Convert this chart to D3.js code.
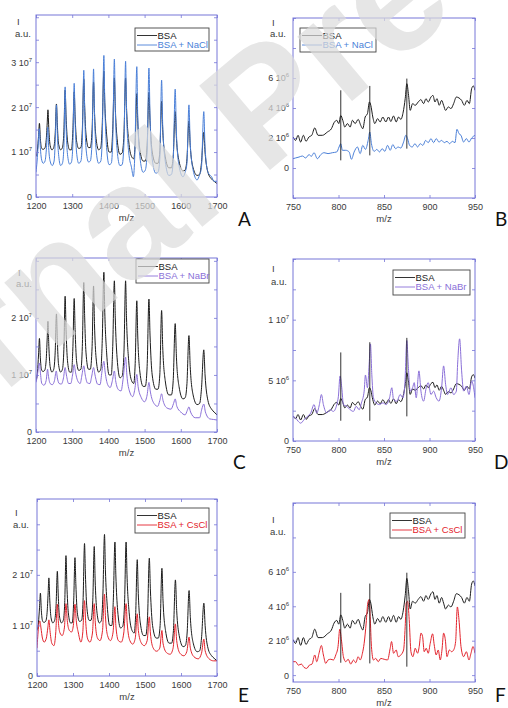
<!DOCTYPE html>
<html><head><meta charset="utf-8">
<script src="https://cdn.jsdelivr.net/npm/d3@7"></script>
<style>body{margin:0;background:#fff} svg{display:block}</style>
</head><body><svg id="c" width="508" height="708"></svg>
<script>
// ---------- DATA (intensity in units of 1e6 a.u.) ----------
const UNIT = 1e6;
const highTicksX = [1200,1300,1400,1500,1600,1700];
const lowTicksX = [750,800,850,900,950];

// BSA control, m/z 1200-1700 (panels A, C, E)
const bsaHigh = [[1200,9.0],[1204,10.5],[1207,13.5],[1209.5,16.4],[1212,13],[1215,11],[1219,10.6],[1224,10.8],[1228,12.5],[1231,16.5],[1233,19.4],[1235.5,15],[1239,11.5],[1244,10.5],[1249,11],[1253,14],[1256.5,20.7],[1259,16],[1262,12],[1268,10.5],[1273,11],[1277,14.5],[1280.5,23.8],[1283,18],[1287,12.5],[1293,10.5],[1298,10.5],[1302,15],[1305.5,23.4],[1308,18],[1312,12.5],[1318,10.8],[1324,11],[1328,15],[1332,26.2],[1334.5,20],[1338,14],[1345,11],[1350,11],[1355,15],[1359,25.6],[1361.5,19],[1366,13],[1373,10.5],[1379,11],[1383,16],[1387.5,28.0],[1390,21],[1395,14],[1402,10],[1408,10],[1412,15],[1416.5,26.5],[1419,20],[1424,13],[1432,9.5],[1438,9.8],[1443,14],[1447.5,26.5],[1450,20],[1456,12.5],[1464,9],[1470,8.5],[1474,12],[1478.5,23],[1481,17],[1487,10.5],[1496,8],[1502,8],[1507,11.5],[1512,23.3],[1515,17],[1521,10],[1531,7.5],[1537,7.5],[1542,10],[1547,21.3],[1550,15],[1557,9],[1567,6.5],[1574,6.5],[1579,9],[1584.5,19],[1588,13],[1595,8],[1606,5.8],[1612,6],[1617,8.5],[1622.5,16.9],[1626,11.5],[1634,6.5],[1645,4.8],[1652,5],[1657,7.5],[1663.5,14.4],[1667,10],[1675,5.5],[1685,4],[1692,3.5],[1700,3.0]];

// BSA + NaCl (A)
const naclHigh = [[1200,5.5],[1203,8],[1206,11.5],[1209,15.2],[1212,11],[1215,8.5],[1220,7.5],[1225,8],[1229,11],[1232.5,15.5],[1235,11],[1239,8],[1245,7],[1250,8],[1253.5,13],[1256.5,20.5],[1259,14],[1263,9],[1268,7],[1273,7.5],[1277,11],[1280.5,24.5],[1283,16],[1287,9.5],[1293,7.3],[1298,7.8],[1302,12],[1305.5,25.3],[1308,17],[1312,10],[1318,7.5],[1324,8],[1328,12.5],[1332,28.2],[1334.5,19],[1338,11],[1345,7.8],[1350,8],[1355,12.5],[1359,28.5],[1361.5,19],[1366,10.5],[1373,7.5],[1379,8],[1383,13],[1387.5,31.5],[1390,21],[1395,11],[1402,7.2],[1408,7.5],[1412,12.5],[1416.5,30.7],[1419,20],[1424,10.5],[1432,7],[1438,7.2],[1443,12],[1447.5,30.2],[1450,19.5],[1456,10],[1464,6.5],[1469,4.5],[1473,9.5],[1478.5,29.0],[1481,18],[1487,9],[1496,5.5],[1502,6],[1507,10],[1512,28.7],[1515,18],[1521,8.5],[1531,5.3],[1537,5.5],[1542,8.5],[1547,26.0],[1550,16],[1557,8],[1567,4.8],[1574,5],[1579,8],[1584.5,24.0],[1588,14],[1595,7],[1606,4.5],[1612,5.5],[1617,7.5],[1622.5,20.5],[1626,12],[1634,6],[1645,3.8],[1652,5],[1657,6.5],[1663.5,19.0],[1667,11],[1675,5.5],[1685,4.5],[1692,3.5],[1700,3.5]];

// BSA + NaBr (C)
const nabrHigh = [[1200,8.7],[1204,10],[1207,11.5],[1209.5,12.1],[1212,10.5],[1216,8.5],[1222,8.2],[1228,9],[1232,11],[1234,10],[1239,8.5],[1245,8.3],[1251,9],[1256,10.7],[1259,9.5],[1264,8.5],[1270,8.4],[1276,9.5],[1280.5,11.3],[1284,10],[1290,8.5],[1296,8.5],[1301,10],[1305.5,11.8],[1309,10.5],[1315,9],[1322,8.5],[1327,10],[1332,11.6],[1336,10],[1342,8.6],[1349,8.5],[1354,9.8],[1359,11.3],[1363,10],[1370,8.4],[1377,8.3],[1382,10.5],[1387.5,12.4],[1391,10.5],[1398,8.3],[1405,7.8],[1411,9],[1416.5,10.7],[1420,9],[1428,7.4],[1435,7.2],[1441,9.5],[1447.5,13.1],[1451,10],[1459,7],[1467,6.2],[1473,7.5],[1478.5,10.1],[1482,8],[1491,6],[1500,5.3],[1507,6.5],[1512,8.7],[1516,7],[1526,5],[1536,4.5],[1542,5.5],[1547,6.7],[1551,5.5],[1562,4.2],[1573,4],[1580,5],[1584.5,5.8],[1589,4.5],[1600,3.5],[1612,3],[1618,3.8],[1622.5,4.4],[1627,3.5],[1640,2.5],[1652,2.5],[1658,4],[1663.5,4.9],[1668,3.5],[1680,2.3],[1690,2.2],[1700,2.1]];

// BSA + CsCl (E)
const csclHigh = [[1200,5.5],[1204,9.5],[1208,10.9],[1211,9.5],[1215,7.5],[1220,6.7],[1226,7.5],[1230,9.5],[1233,11.1],[1236,9],[1241,6.5],[1247,6],[1252,8.5],[1256.5,14.2],[1259,11],[1264,8.5],[1270,8],[1276,9.5],[1280.5,14.3],[1284,11],[1290,9],[1296,8.7],[1301,10],[1305.5,14.2],[1309,11],[1315,8.5],[1322,6.7],[1327,8.5],[1332,14.9],[1335,11],[1340,7.5],[1347,6.7],[1354,8.5],[1359,14.3],[1362,10.5],[1368,7.5],[1375,7],[1382,9],[1387.5,16.2],[1390,12],[1396,8],[1404,7],[1411,8.5],[1416.5,13.7],[1419,10],[1426,7],[1434,6.7],[1441,8.5],[1447.5,14.3],[1450.5,10.5],[1458,7],[1466,6.3],[1473,7.5],[1478.5,12.3],[1481.5,9],[1490,6.5],[1498,6],[1506,7],[1512,11.7],[1515,8.5],[1523,5.5],[1532,4.9],[1541,5.5],[1547,9],[1550,6.5],[1560,4.6],[1570,4.3],[1578,5.5],[1584.5,10.3],[1588,7],[1597,4.5],[1608,4],[1616,4.8],[1622.5,7.7],[1626,5.5],[1636,3.8],[1648,3.4],[1657,4.5],[1663.5,7.3],[1667,5],[1678,3.4],[1690,3.0],[1700,3.0]];

// BSA control, m/z 750-950 (panels B, D, F)
const bsaLow = [[750,2.07],[752.9,1.84],[755.5,2.18],[758.4,1.73],[761.4,2.18],[764.3,1.78],[767.6,2.07],[770.6,2.18],[773.9,2.67],[777.5,2.18],[782.3,2.18],[787.8,2.4],[792.2,2.62],[795.1,3.02],[798.1,3.18],[800.3,2.96],[802.5,3.5],[804.7,3.18],[806.9,2.73],[809.8,2.96],[812.8,2.73],[815.3,3.18],[818.3,2.96],[821.6,3.24],[824.5,2.84],[826.7,2.62],[829.3,3.4],[831.8,3.62],[834.0,4.4],[835.5,4.18],[837.7,3.4],[839.9,2.96],[842.9,3.29],[845.8,3.07],[848.7,3.4],[852.0,3.07],[855.0,3.4],[857.5,3.1],[860.5,3.47],[863.4,3.07],[866.0,3.4],[868.5,3.24],[871.1,3.73],[873.3,4.62],[875.1,5.62],[877.0,4.84],[878.8,3.84],[881.4,4.29],[884.3,4.18],[887.6,4.4],[890.6,4.56],[893.5,4.29],[896.1,4.62],[898.6,4.4],[901.6,4.73],[903.8,4.84],[906.0,4.4],[908.2,4.62],[910.7,4.18],[913.3,4.51],[915.5,4.18],[917.7,3.84],[920.7,4.07],[923.6,3.96],[926.5,4.29],[929.5,4.73],[932.4,4.67],[935.3,4.51],[938.3,4.18],[941.2,4.51],[943.8,4.29],[946.3,5.29],[948.2,5.47],[950,5.18]];

const naclLow = [[750,0.62],[752.9,0.67],[756.6,0.73],[760.3,0.8],[763.9,0.67],[767.6,0.89],[770.2,0.78],[773.1,1.02],[776.8,0.62],[780.5,0.89],[784.1,1.02],[788.5,0.96],[793.3,1.02],[798.1,1.07],[800.6,1.4],[802.5,1.62],[804.3,1.18],[808.0,1.18],[811.7,1.07],[814.2,0.58],[817.2,1.07],[820.8,1.4],[823.8,0.96],[826.7,1.51],[829.6,1.24],[832.6,1.84],[834.4,2.4],[836.2,1.62],[839.2,1.11],[842.1,1.24],[845.1,1.07],[848.0,1.29],[850.9,1.11],[853.9,1.51],[856.8,1.18],[859.7,1.56],[862.7,1.29],[865.6,1.4],[868.5,1.33],[871.5,1.73],[874.0,2.18],[875.9,1.96],[878.1,1.51],[881.0,1.4],[884.0,1.62],[886.9,1.4],[889.8,1.62],[892.8,1.51],[895.7,1.84],[898.6,1.69],[901.6,1.96],[904.5,1.69],[907.4,1.96],[910.4,1.73],[913.3,1.84],[916.3,1.69],[919.2,1.78],[922.1,1.62],[925.1,1.78],[928.0,1.69],[930.2,2.58],[932.4,2.29],[934.6,2.18],[937.5,1.73],[940.5,1.96],[943.4,1.73],[946.3,2.0],[950,2.18]];

const nabrLow = [[750,2.03],[752.9,1.89],[755.9,1.61],[758.4,1.47],[762.1,1.75],[765.8,2.03],[769.5,2.31],[773.1,3.0],[776.1,2.31],[779.0,3.0],[781.2,3.83],[783.4,3.0],[787.1,2.31],[790.7,2.58],[794.4,2.44],[798.1,3.0],[799.9,3.69],[801.7,5.36],[803.6,4.39],[805.4,3.0],[809.1,2.86],[812.8,2.58],[816.4,2.44],[819.4,2.86],[822.7,2.58],[825.2,3.14],[828.2,4.11],[829.6,5.44],[831.8,4.39],[833.7,6.33],[835.1,8.0],[836.6,5.5],[838.4,3.56],[841.4,3.14],[845.1,3.0],[848.7,3.14],[852.4,3.0],[856.1,3.56],[858.6,4.39],[860.5,3.42],[864.1,3.28],[867.8,3.83],[870.7,3.56],[872.9,4.67],[875.1,8.28],[876.6,6.33],[878.8,4.11],[881.4,4.39],[883.2,4.81],[885.4,3.56],[888.4,5.78],[890.6,4.11],[893.5,3.28],[896.4,4.39],[898.6,4.81],[901.6,3.83],[904.5,4.11],[907.4,3.56],[910.4,3.28],[913.3,4.39],[915.5,6.19],[917.7,4.67],[919.9,3.83],[923.6,4.39],[926.5,3.83],[929.5,4.11],[930.9,6.33],[933.1,8.42],[935.3,5.78],[937.5,4.11],[940.5,4.53],[943.4,3.83],[946.3,4.94],[948.5,4.39],[950,3.56]];

const csclLow = [[750,0.78],[752.9,0.78],[755.9,0.58],[759.2,0.64],[762.1,0.45],[765.0,0.39],[768.0,0.58],[770.9,0.64],[773.9,1.17],[776.1,0.78],[778.6,1.27],[781.2,1.72],[783.4,1.17],[786.0,0.68],[788.5,0.88],[791.5,0.92],[794.4,0.88],[797.0,1.17],[799.5,1.66],[801.4,2.67],[803.2,2.05],[805.4,1.07],[808.0,0.78],[810.6,0.92],[813.5,0.64],[816.4,0.88],[819.0,0.72],[821.6,1.07],[823.8,0.88],[826.3,1.27],[828.2,1.85],[830.4,3.02],[832.2,4.19],[833.7,4.39],[834.8,3.41],[836.2,1.66],[838.4,0.88],[841.0,0.97],[843.6,0.78],[846.5,0.97],[850.2,0.92],[853.9,0.88],[856.8,1.56],[858.3,1.95],[860.5,1.27],[863.4,1.46],[865.6,1.07],[868.5,1.17],[871.5,1.46],[873.3,2.83],[874.4,4.19],[875.9,4.29],[877.7,3.22],[879.6,1.36],[881.8,1.07],[884.3,1.56],[886.9,1.27],[888.7,1.66],[890.6,2.44],[892.4,2.24],[894.2,1.36],[896.4,1.56],[898.6,1.27],[900.8,1.85],[903.4,2.4],[905.2,1.75],[907.4,1.17],[909.6,1.46],[911.8,0.88],[913.7,1.46],[915.5,2.44],[917.4,2.05],[919.2,1.07],[921.8,1.46],[924.3,1.36],[926.5,1.46],[928.7,1.95],[930.6,3.96],[932.4,3.22],[934.6,1.66],[937.5,1.07],[940.5,1.36],[943.4,0.88],[945.6,1.27],[947.8,1.66],[950,1.27]];

// vertical spikes in BSA traces: [m/z, top, bottom]
const spikesB = [[802.5,5.18,0.51],[834.4,5.47,0.84],[875.1,5.96,1.29]];
const spikesD = [[802.5,7.3,1.67],[834.4,8.14,1.67],[875.1,8.5,2.03]];
const spikesF = [[802.5,4.78,0.72],[834.4,5.32,0.68],[875.1,5.95,0.49]];

// y ticks (all) and labelled y ticks
const yTicksA = [0,5e6,1e7,1.5e7,2e7,2.5e7,3e7,3.5e7,4e7], yLabelsA = [0,1e7,2e7,3e7];
const yTicksC = [0,5e6,1e7,1.5e7,2e7,2.5e7,3e7], yLabelsC = [0,1e7,2e7];
const yTicksE = [0,5e6,1e7,1.5e7,2e7,2.5e7,3e7,3.5e7], yLabelsE = [0,1e7,2e7];
const yTicksB = [-2e6,0,2e6,4e6,6e6,8e6,1e7], yLabelsB = [0,2e6,4e6,6e6];
const yTicksD = [0,2.5e6,5e6,7.5e6,1e7,1.25e7,1.5e7], yLabelsD = [0,5e6,1e7];
const yTicksF = [0,2e6,4e6,6e6,8e6,1e7], yLabelsF = [0,2e6,4e6,6e6];

const seriesNames = ['BSA + NaCl','BSA + NaBr','BSA + CsCl'];
const seriesColors = ['#4a7fd8','#8a6fd8','#e3232c'];
const panelLetters = ['A','B','C','D','E','F'];

// ---------- DRAWING ----------
const svg = d3.select('#c');
const FONT = "'Liberation Sans', Arial, sans-serif";
const FRAME = '#7676d8';
const BLACK = '#1c1c1c';

function sci(v){
  if (v === 0) return ['0', null];
  const e = Math.floor(Math.log10(Math.abs(v)) + 1e-9);
  const m = Math.round(v / Math.pow(10, e) * 10) / 10;
  return [m + ' 10', e];
}

const layout = [
  {L:36,R:217,T:15,B:197, xd:[1200,1700], yd:[0,4.05e7], xt:highTicksX, yt:yTicksA, yl:yLabelsA, base:bsaHigh, s:naclHigh, k:0, spikes:null,
   leg:[135,28,74,23], lab:[17,25,15,37], letter:[238,226]},
  {L:293,R:475,T:18,B:198, xd:[750,950], yd:[-2e6,1e7], xt:lowTicksX, yt:yTicksB, yl:yLabelsB, base:bsaLow, s:naclLow, k:0, spikes:spikesB,
   leg:[300,28,76,24], lab:[272,26,270,37], letter:[495,226]},
  {L:36,R:217,T:258,B:432, xd:[1200,1700], yd:[0,3.05e7], xt:highTicksX, yt:yTicksC, yl:yLabelsC, base:bsaHigh, s:nabrHigh, k:1, spikes:null,
   leg:[136,259,73,24], lab:[18,276,16,287], letter:[233,469]},
  {L:293,R:475,T:259,B:441, xd:[750,950], yd:[0,1.5e7], xt:lowTicksX, yt:yTicksD, yl:yLabelsD, base:bsaLow, s:nabrLow, k:1, spikes:spikesD,
   leg:[393,270,77,25], lab:[272,272,271,285], letter:[494,469]},
  {L:37,R:217,T:499,B:676, xd:[1200,1700], yd:[0,3.5e7], xt:highTicksX, yt:yTicksE, yl:yLabelsE, base:bsaHigh, s:csclHigh, k:2, spikes:null,
   leg:[135,508,74,25], lab:[15,516,13,528], letter:[238,702]},
  {L:293,R:475,T:503,B:682, xd:[750,950], yd:[-0.4e6,1e7], xt:lowTicksX, yt:yTicksF, yl:yLabelsF, base:bsaLow, s:csclLow, k:2, spikes:spikesF,
   leg:[390,513,75,25], lab:[272,523,270,535], letter:[495,702]}
];

layout.forEach((p, i) => {
  const x = d3.scaleLinear().domain(p.xd).range([p.L, p.R]);
  const y = d3.scaleLinear().domain(p.yd).range([p.B, p.T]);
  const g = svg.append('g');
  const cid = 'clip' + i;
  svg.append('clipPath').attr('id', cid).append('rect')
    .attr('x', p.L).attr('y', p.T).attr('width', p.R - p.L).attr('height', p.B - p.T);

  const line = d3.line().x(d => x(d[0])).y(d => y(d[1] * UNIT)).curve(d3.curveMonotoneX);
  const plot = g.append('g').attr('clip-path', `url(#${cid})`);
  plot.append('path').datum(p.base).attr('d', line).attr('fill','none')
    .attr('stroke', BLACK).attr('stroke-width', 1);
  plot.append('path').datum(p.s).attr('d', line).attr('fill','none')
    .attr('stroke', seriesColors[p.k]).attr('stroke-width', 1);
  if (p.spikes) {
    plot.selectAll('line.spk').data(p.spikes).join('line')
      .attr('x1', d => x(d[0])).attr('x2', d => x(d[0]))
      .attr('y1', d => y(d[1] * UNIT)).attr('y2', d => y(d[2] * UNIT))
      .attr('stroke', BLACK).attr('stroke-width', 0.9);
  }

  // axes with inward ticks
  const styleAxis = sel => {
    sel.select('.domain').remove();
    sel.selectAll('.tick line').attr('stroke', FRAME).attr('stroke-width', 0.8);
    sel.selectAll('text').attr('font-family', FONT).attr('font-size', 9).attr('fill', '#3a3a3a');
  };
  g.append('g').attr('transform', `translate(0,${p.B})`)
    .call(d3.axisBottom(x).tickValues(p.xt).tickSizeInner(-3).tickSizeOuter(0).tickPadding(6).tickFormat(d3.format('d')))
    .call(styleAxis);
  g.append('g').attr('transform', `translate(0,${p.T})`)
    .call(d3.axisTop(x).tickValues(p.xt).tickSizeInner(-3).tickSizeOuter(0).tickFormat(''))
    .call(styleAxis);
  g.append('g').attr('transform', `translate(${p.R},0)`)
    .call(d3.axisRight(y).tickValues(p.yt).tickSizeInner(-3).tickSizeOuter(0).tickFormat(''))
    .call(styleAxis);
  const ya = g.append('g').attr('transform', `translate(${p.L},0)`)
    .call(d3.axisLeft(y).tickValues(p.yt).tickSizeInner(-3).tickSizeOuter(0).tickPadding(4).tickFormat(''))
    .call(styleAxis);
  ya.selectAll('.tick text').each(function(v) {
    if (!p.yl.includes(v)) return;
    const [m, e] = sci(v);
    const t = d3.select(this);
    t.text(m);
    if (e !== null) t.append('tspan').attr('font-size', 6).attr('dy', -4).text(e);
  });

  // frame
  g.append('rect').attr('x', p.L).attr('y', p.T).attr('width', p.R - p.L).attr('height', p.B - p.T)
    .attr('fill', 'none').attr('stroke', FRAME).attr('stroke-width', 1);

  // axis titles
  g.append('text').attr('x', (p.L + p.R) / 2).attr('y', p.B + 24).attr('text-anchor', 'middle')
    .attr('font-family', FONT).attr('font-size', 9.5).attr('fill', '#3a3a3a').text('m/z');
  g.append('text').attr('x', p.lab[0]).attr('y', p.lab[1])
    .attr('font-family', FONT).attr('font-size', 9.5).attr('fill', '#3a3a3a').text('I');
  g.append('text').attr('x', p.lab[2]).attr('y', p.lab[3])
    .attr('font-family', FONT).attr('font-size', 9.5).attr('fill', '#3a3a3a').text('a.u.');

  // legend
  const [lx, ly, lw, lh] = p.leg;
  const lg = g.append('g');
  lg.append('rect').attr('x', lx).attr('y', ly).attr('width', lw).attr('height', lh)
    .attr('fill', '#fff').attr('stroke', '#444').attr('stroke-width', 0.9);
  const entries = [['BSA', BLACK, '#222'], [seriesNames[p.k], seriesColors[p.k], seriesColors[p.k]]];
  entries.forEach((en, j) => {
    const cy = ly + 7.5 + j * 9.5;
    lg.append('line').attr('x1', lx + 2).attr('x2', lx + 22).attr('y1', cy).attr('y2', cy)
      .attr('stroke', en[1]).attr('stroke-width', 0.9);
    lg.append('text').attr('x', lx + 22.5).attr('y', cy + 3.3)
      .attr('font-family', FONT).attr('font-size', 9.5).attr('fill', en[2]).text(en[0]);
  });

  // panel letter
  svg.append('text').attr('x', p.letter[0]).attr('y', p.letter[1])
    .attr('font-family', "Lato, 'Liberation Sans', sans-serif").attr('font-size', 19).attr('fill', '#111')
    .text(panelLetters[i]);
});

// watermark
svg.append('text').attr('transform', 'translate(-215,577) rotate(-40)')
  .attr('font-family', FONT).attr('font-weight', 'bold').attr('font-size', 160)
  .attr('fill', '#dcdcdc').attr('opacity', 0.7).text('Journal Pre-proof');
</script></body></html>
